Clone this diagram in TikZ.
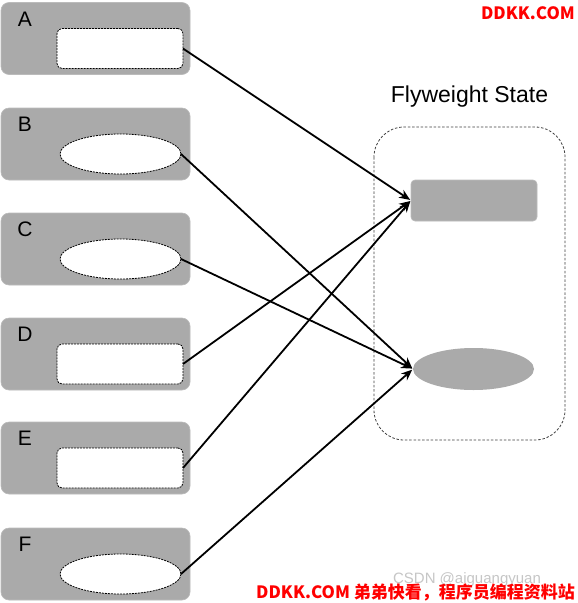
\documentclass[tikz,border=0pt]{standalone}
\usepackage{fontspec}
\setmainfont{Liberation Sans}
\newfontfamily\cjk{Noto Sans CJK SC}
\usetikzlibrary{shapes.geometric,arrows.meta}
\definecolor{boxgray}{RGB}{170,170,170}
\definecolor{wmred}{RGB}{255,0,0}
\tikzset{
  outerbox/.style={rectangle, fill=boxgray, draw=boxgray!80!white, line width=0.6pt, rounded corners=8pt, minimum width=189pt, minimum height=72pt, inner sep=0pt, outer sep=0pt},
  innerrect/.style={rectangle, fill=white, draw=black, line width=0.8pt, dash pattern=on 2pt off 1pt, rounded corners=5pt, minimum width=126pt, minimum height=40pt, inner sep=0pt, outer sep=0pt},
  innerell/.style={ellipse, fill=white, draw=black, line width=0.8pt, dash pattern=on 2pt off 1pt, minimum width=121pt, minimum height=40pt, inner sep=0pt, outer sep=0pt},
  lbl/.style={font=\fontsize{21}{24}\selectfont, inner sep=0pt},
  arr/.style={line width=1.8pt, shorten >=1pt, -{Stealth[length=11pt,width=9pt,inset=3.5pt]}},
}
\begin{document}
\begin{tikzpicture}[x=1pt,y=-1pt]
\useasboundingbox (0,0) rectangle (578,603);
\fill[white] (0,0) rectangle (578,603);
% left boxes
\node[outerbox] (oa) at (95.5,38.5) {};
\node[outerbox] (ob) at (95.5,144) {};
\node[outerbox] (oc) at (95.5,249) {};
\node[outerbox] (od) at (95.5,354) {};
\node[outerbox] (oe) at (95.5,458) {};
\node[outerbox] (of) at (95.5,564) {};
\node[lbl] (la) at (25,19) {A};
\node[lbl] (lb) at (25,124.5) {B};
\node[lbl] (lc) at (25,229.5) {C};
\node[lbl] (ld) at (25,334.5) {D};
\node[lbl] (le) at (25,438.5) {E};
\node[lbl] (lf) at (25,544.5) {F};
\node[innerrect] (ia) at (120,48.5) {};
\node[innerell] (ib) at (120.5,154) {};
\node[innerell] (ic) at (120.5,259) {};
\node[innerrect] (id) at (120,364) {};
\node[innerrect] (ie) at (120,468) {};
\node[innerell] (if) at (120.5,574) {};
% flyweight container
\draw[black!75, line width=0.8pt, dash pattern=on 2.5pt off 1.8pt, rounded corners=30pt] (374,127) rectangle (565,440);
\node[font=\fontsize{23}{26}\selectfont, inner sep=0pt] (title) at (469.5,96.5) {Flyweight State};
\node[rectangle, fill=boxgray, draw=boxgray!80!white, line width=0.6pt, rounded corners=4pt, minimum width=126pt, minimum height=41pt, inner sep=0pt, outer sep=0pt] (fr) at (474,200.5) {};
\node[ellipse, fill=boxgray, minimum width=121pt, minimum height=42pt, inner sep=0pt, outer sep=0pt] (fe) at (473.5,369) {};
% connectors
\draw[arr] (ia.east) -- (fr.west);
\draw[arr] (id.east) -- (fr.west);
\draw[arr] (ie.east) -- (fr.west);
\draw[arr] (ib.east) -- (fe.west);
\draw[arr] (ic.east) -- (fe.west);
\draw[arr] (if.east) -- (fe.west);
% watermarks
\node[text=gray!45, font=\fontsize{15}{17}\selectfont, inner sep=0pt] (csdn) at (467,580) {CSDN @aiguangyuan};
\node[text=wmred, font=\cjk\bfseries\fontsize{17}{19}\selectfont, inner sep=0pt, anchor=east] (wm1) at (575,13) {DDKK.COM};
\node[text=wmred, font=\cjk\bfseries\fontsize{17}{19}\selectfont, inner sep=0pt, anchor=east] (wm2) at (575,592) {DDKK.COM 弟弟快看，程序员编程资料站};
\end{tikzpicture}
\end{document}
